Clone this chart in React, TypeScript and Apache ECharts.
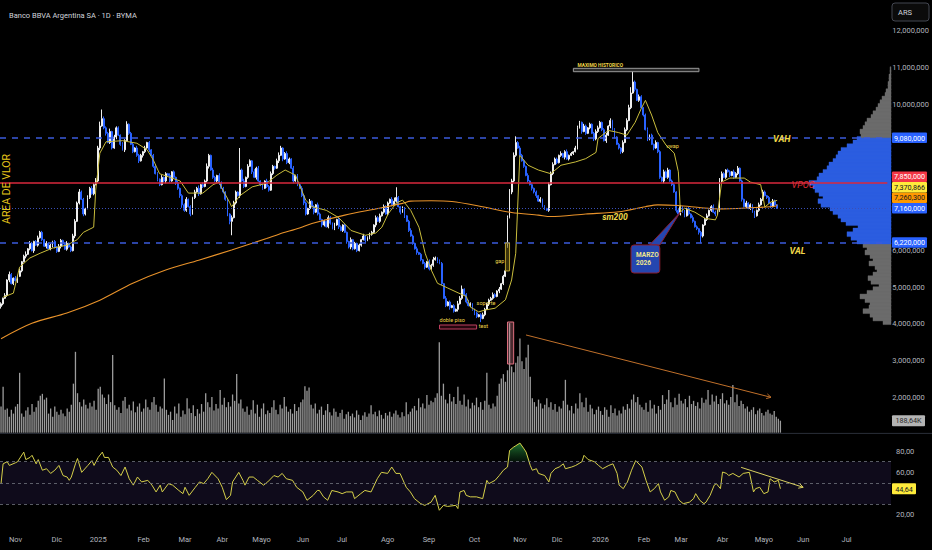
import { useEffect, useRef } from "react";
import * as echarts from "echarts";

const TITLE = "Banco BBVA Argentina SA · 1D · BYMA";
const FONT = "Roboto, 'Noto Sans', sans-serif";
const START_DATE = "2024-10-23";
const BAR_COUNT = 431;
const HOLIDAYS = [
  "2024-11-18", "2024-12-24", "2024-12-25", "2025-01-01", "2025-03-03", "2025-03-04", "2025-03-24",
  "2025-04-02", "2025-04-17", "2025-04-18", "2025-05-01", "2025-05-02", "2025-06-16", "2025-06-20",
  "2025-07-09", "2025-08-15", "2025-10-10", "2025-11-21", "2025-11-24", "2025-12-08", "2025-12-25",
  "2026-01-01", "2026-02-16", "2026-02-17", "2026-03-23", "2026-03-24", "2026-04-02", "2026-04-03",
  "2026-05-01", "2026-05-25", "2026-06-15", "2026-07-09", "2026-07-10",
];
const MONTH_NAMES = ["Ene", "Feb", "Mar", "Abr", "Mayo", "Jun", "Jul", "Ago", "Sep", "Oct", "Nov", "Dic"];

// price scale of the main pane (ARS)
const PRICE_MIN = 1000000;
const PRICE_MAX = 12837500;
const PRICE_STEP = 1000000;

// daily closes, units of 10,000 ARS
const CLOSE = [
  455, 470, 478, 520, 535, 510, 525, 518, 530, 545,
  570, 585, 590, 605, 620, 600, 625, 615, 635, 650,
  630, 612, 620, 605, 615, 625, 610, 598, 612, 628,
  618, 604, 620, 610, 600, 640, 680, 730, 760, 740,
  700, 715, 745, 770, 755, 780, 790, 880, 940, 960,
  935, 920, 895, 925, 880, 910, 935, 915, 890, 875,
  900, 945, 920, 890, 870, 880, 860, 845, 860, 870,
  880, 895, 875, 860, 830, 810, 795, 780, 800, 790,
  810, 805, 790, 815, 800, 785, 770, 750, 725, 710,
  740, 720, 700, 745, 760, 770, 755, 780, 775, 790,
  830, 860, 820, 800, 790, 805, 785, 770, 760, 740,
  700, 680, 690, 730, 760, 750, 820, 790, 775, 800,
  830, 845, 815, 800, 825, 790, 780, 770, 790, 775,
  765, 810, 830, 825, 845, 860, 880, 850, 865, 840,
  850, 825, 790, 805, 780, 770, 750, 730, 700, 715,
  735, 720, 705, 725, 700, 685, 670, 680, 665, 690,
  675, 660, 670, 685, 665, 655, 670, 650, 625, 610,
  630, 605, 620, 600, 615, 630, 640, 628, 635, 645,
  650, 670, 690, 680, 695, 705, 720, 700, 730, 740,
  725, 735, 745, 720, 705, 715, 695, 680, 655, 640,
  620, 605, 595, 590, 575, 565, 555, 570, 550, 560,
  575, 580, 570, 565, 510, 470, 450, 460, 445, 450,
  435, 440, 455, 470, 495, 480, 460, 450, 455, 440,
  430, 420, 425, 415, 425, 440, 455, 465, 470, 480,
  475, 490, 495, 510, 530, 545, 690, 760, 790, 860,
  895, 880, 860, 845, 830, 805, 790, 780, 770, 760,
  750, 735, 740, 720, 715, 710, 780, 810, 835, 850,
  840, 860, 865, 855, 870, 850, 860, 865, 870, 880,
  935, 950, 925, 940, 920, 935, 945, 920, 905, 925,
  935, 950, 930, 900, 915, 940, 955, 930, 910, 890,
  880, 870, 895, 930, 955, 990, 1030, 1060, 1040, 1010,
  1020, 990, 970, 930, 905, 915, 890, 880, 895, 870,
  800, 790, 815, 800, 820, 790, 780, 760, 710, 700,
  720, 705, 695, 715, 700, 690, 680, 665, 660, 650,
  640, 670, 685, 695, 710, 720, 705, 700, 710, 790,
  810, 800, 820, 815, 805, 815, 800, 810, 825, 790,
  740, 720, 730, 715, 725, 705, 695, 710, 725, 740,
  760, 750, 745, 730, 720, 735, 725, 716,
];
const FIRST_OPEN = 448;
const OPEN_OVERRIDE: Record<number, number> = { 246: 612 };
// wick lengths per bar, units of 20,000 ARS
const HIGH_WICK = [
  "2131421323", "1241321232", "2131212132", "1231233242", "2132324369",
  "3224132213", "2412313221", "3121232131", "2131213122", "3121324132",
  "4213213221", "2133216231", "3214231213", "2321343123", "2131213221",
  "3121321213", "2131321211", "3121213122", "2132313221", "3522132123",
  "2131212132", "4213213121", "2143512321", "1212321223", "2131223434",
  "5232213121", "2131213332", "2131231213", "3213212123", "3212313121",
  "2133348421", "3212312131", "2132312212", "2131213121", "2123123214",
  "3212213231", "2131212132", "32121321",
];
const LOW_WICK = [
  "3212312131", "2131213121", "2131232213", "3121213121", "3212121231",
  "2312213121", "3121212313", "2131213212", "3121232342", "2131213121",
  "2312123122", "3421213121", "2131312212", "2122131312", "2131212321",
  "2131213212", "2121312132", "3212121312", "2131212121", "2121313121",
  "2131213121", "2121212131", "2131212122", "3212121312", "2131212132",
  "2131212132", "3121212121", "2121312121", "2131212132", "2121313121",
  "2321212131", "2121321312", "2131212131", "2121212123", "3212121312",
  "2121212121", "3121213121", "21212121",
];
const HIGH_OVERRIDE: Record<number, number> = { 49: 985, 116: 880, 192: 773, 250: 912, 307: 1092 };
const LOW_OVERRIDE: Record<number, number> = { 112: 642, 233: 405, 340: 620 };

// daily volume, units of 10,000
const VOLUME = [
  41, 72, 36, 38, 25, 36, 30, 41, 45, 94,
  30, 25, 35, 40, 28, 45, 33, 40, 50, 58,
  61, 52, 55, 30, 38, 25, 41, 33, 28, 36,
  30, 26, 38, 33, 44, 77, 127, 62, 48, 41,
  52, 44, 38, 47, 41, 50, 36, 69, 72, 60,
  55, 45, 60, 48, 122, 43, 36, 40, 31, 50,
  56, 38, 44, 35, 49, 32, 41, 46, 33, 38,
  52, 40, 36, 48, 56, 44, 33, 41, 38, 85,
  36, 28, 33, 20, 41, 30, 46, 25, 35, 29,
  54, 38, 31, 43, 26, 37, 30, 45, 33, 62,
  48, 40, 56, 35, 45, 38, 67, 44, 55, 40,
  48, 41, 60, 50, 92, 46, 52, 38, 33, 41,
  28, 36, 51, 30, 44, 25, 38, 46, 29, 35,
  31, 40, 51, 36, 29, 44, 38, 56, 41, 33,
  37, 30, 45, 34, 40, 48, 52, 73, 66, 71,
  44, 38, 46, 30, 36, 41, 28, 35, 45, 32,
  27, 38, 33, 25, 31, 36, 22, 29, 33, 26,
  30, 24, 35, 28, 20, 27, 32, 25, 30, 43,
  29, 33, 26, 35, 28, 22, 31, 27, 33, 25,
  30, 35, 28, 24, 32, 26, 48, 29, 33, 38,
  42, 35, 54, 40, 46, 38, 59, 44, 50, 48,
  55, 62, 142, 58, 77, 52, 46, 61, 49, 56,
  45, 72, 50, 44, 60, 41, 52, 38, 47, 43,
  55, 40, 48, 36, 50, 94, 44, 38, 46, 41,
  58, 77, 85, 92, 80, 98, 172, 104, 95, 110,
  120, 148, 112, 100, 118, 138, 88, 54, 48, 41,
  52, 46, 38, 44, 54, 40, 48, 36, 45, 33,
  41, 38, 50, 83, 44, 35, 42, 30, 46, 38,
  62, 48, 40, 55, 33, 44, 38, 29, 36, 41,
  34, 28, 40, 36, 25, 43, 31, 38, 27, 35,
  30, 41, 36, 45, 38, 52, 60, 48, 56, 44,
  40, 36, 47, 33, 51, 38, 44, 30, 42, 36,
  59, 45, 52, 67, 48, 40, 55, 44, 61, 50,
  46, 53, 40, 58, 45, 50, 42, 48, 38, 55,
  47, 52, 67, 44, 60, 49, 58, 45, 53, 62,
  46, 51, 44, 56, 75, 48, 60, 42, 50, 45,
  38, 41, 33, 36, 40, 29, 35, 38, 31, 27,
  33, 36, 30, 28, 34, 25, 22, 18.864,
];

// [bar index, value in millions]
const SMA200 = [
  [0, 3.6], [15, 4.02], [32, 4.3], [48, 4.65], [64, 5.11], [80, 5.47], [96, 5.74], [112, 6.02],
  [129, 6.33], [135, 6.45], [145, 6.62], [151, 6.74], [167, 6.97], [183, 7.15], [195, 7.29],
  [199, 7.35], [209, 7.36], [219, 7.34], [232, 7.22], [248, 7.04], [261, 6.97], [267, 6.93],
  [284, 7.0], [300, 7.06], [313, 7.2], [319, 7.25], [329, 7.23], [340, 7.17], [348, 7.14],
  [364, 7.17], [376, 7.21], [377, 7.2603],
];
const VWAP = [
  [1, 4.73], [6, 4.84], [9, 5.55], [14, 5.8], [19, 5.93], [25, 6.07], [32, 6.15], [37, 6.3],
  [40, 6.5], [45, 6.64], [46, 7.65], [48, 8.66], [51, 8.97], [59, 9.0], [66, 8.93], [71, 8.75],
  [74, 8.47], [77, 8.1], [82, 8.0], [87, 7.9], [91, 7.57], [98, 7.57], [103, 7.8], [106, 7.87],
  [107, 7.73], [111, 7.32], [112, 7.2], [116, 7.5], [122, 7.74], [129, 7.84], [134, 8.06],
  [138, 8.2], [143, 8.06], [148, 7.38], [151, 7.2], [158, 7.1], [164, 6.9], [170, 6.55],
  [177, 6.42], [182, 6.48], [185, 6.64], [188, 7.0], [192, 7.3], [195, 7.38], [199, 7.1],
  [203, 6.64], [206, 5.93], [209, 5.47], [212, 5.11], [217, 4.98], [222, 4.85], [226, 4.75],
  [228, 4.46], [232, 4.33], [235, 4.38], [240, 4.43], [245, 4.66], [248, 5.2], [250, 5.93],
  [252, 8.6], [256, 8.33], [261, 8.2], [267, 8.1], [272, 8.33], [279, 8.42], [284, 8.51],
  [289, 8.68], [290, 9.06], [295, 9.28], [300, 9.22], [304, 9.15], [308, 9.5], [311, 9.88],
  [313, 10.1], [316, 9.7], [319, 9.22], [323, 8.88], [327, 8.66], [329, 8.15], [330, 7.05],
  [332, 7.16], [337, 7.05], [342, 6.88], [347, 6.84], [348, 6.97], [350, 7.87], [354, 7.98],
  [361, 7.98], [364, 7.87], [369, 7.8], [371, 7.19], [374, 7.33], [377, 7.370866],
];
const RSI = [
  [0, 49.4], [1, 68], [3, 70], [4, 66.5], [7, 69], [8, 70], [11, 79], [12, 72], [14, 74], [15, 76],
  [17, 68], [18, 72], [20, 62], [22, 63.4], [24, 59], [26, 62], [28, 66.5], [30, 57], [32, 55.6],
  [33, 52.5], [34, 55.6], [36, 68], [37, 73], [39, 60], [42, 66.5], [44, 71], [45, 66.5], [47, 74],
  [49, 79], [50, 74], [52, 74], [54, 65], [56, 62], [58, 57], [60, 65], [62, 54], [64, 48],
  [66, 55.6], [68, 51], [71, 52.5], [73, 48], [75, 41.6], [77, 48], [78, 41.6], [81, 49.4], [83, 48],
  [86, 43], [88, 40], [89, 46], [91, 38.4], [94, 46], [96, 51], [98, 49.4], [100, 54], [102, 60],
  [105, 54], [107, 46], [109, 34.4], [111, 38.4], [112, 51], [115, 60], [117, 52.5], [118, 48],
  [120, 55.6], [122, 55.6], [124, 52.5], [127, 48], [129, 51], [132, 57], [134, 55.6], [136, 59],
  [138, 54], [141, 52.5], [143, 46], [146, 41.6], [148, 33.8], [151, 38.4], [153, 43], [154, 43],
  [156, 37], [158, 33.8], [160, 43], [163, 41.6], [165, 40], [167, 41.6], [170, 41.6], [171, 35.3],
  [174, 40], [176, 43], [179, 41.6], [182, 54], [184, 60], [187, 59], [189, 65], [191, 59], [193, 59],
  [196, 46], [198, 41.6], [200, 35.3], [203, 30.6], [205, 29], [208, 32], [210, 38.4], [212, 24.4],
  [214, 29], [216, 28], [220, 29], [221, 26], [222, 41.6], [224, 43], [225, 38.4], [227, 37],
  [230, 37], [233, 35.3], [235, 52.5], [236, 49.4], [239, 52.5], [241, 57], [243, 62], [245, 65],
  [246, 80.6], [248, 83.8], [249, 85], [251, 87.5], [253, 82], [254, 79], [256, 66.5], [257, 62],
  [259, 63.4], [260, 59], [263, 57], [265, 51], [266, 59], [268, 63.4], [270, 65], [272, 68],
  [273, 63.4], [276, 65], [278, 66.5], [281, 70], [282, 76], [284, 72], [287, 70], [289, 66.5],
  [291, 63.4], [294, 66.5], [296, 68], [298, 59], [299, 48], [301, 44.7], [303, 51], [305, 62],
  [307, 71], [310, 65], [312, 52.5], [314, 41.6], [316, 44.7], [318, 49.4], [319, 41.6], [321, 33.8],
  [323, 37], [324, 43], [326, 41.6], [328, 33.8], [330, 30.6], [333, 32], [335, 35.3], [336, 40],
  [338, 33.8], [340, 30.6], [341, 32], [343, 38.4], [345, 48], [346, 49.4], [348, 44.7], [349, 60.3],
  [351, 59], [352, 57], [354, 59], [357, 55.6], [359, 59], [362, 60], [364, 41.6], [365, 44.7],
  [367, 46], [369, 40], [371, 41.6], [372, 54], [374, 51], [376, 52.5], [377, 44.64],
];

// volume profile: rows of 100,000 ARS from 4,000,000, relative width
const VP_START = 4.0;
const VP_STEP = 0.1;
const VP_WIDTH = [
  8, 18, 21, 28, 22, 21, 26, 31, 24, 18,
  12, 20, 23, 18, 14, 16, 22, 18, 21, 26,
  24, 28, 34, 40, 44, 38, 33, 45, 50, 53,
  58, 61, 70, 73, 68, 72, 76, 78, 82, 74,
  72, 68, 64, 62, 58, 55, 53, 50, 44, 38,
  34, 30, 31, 28, 26, 24, 20, 18, 15, 13,
  11, 9, 6, 5, 3, 3, 2, 2, 1, 1,
];
const VAH = 9080000;
const VAL = 6220000;
const VPOC = 7850000;
const LAST_CLOSE = 7160000;
const VWAP_LAST = 7370866;
const SMA_LAST = 7260300;

const PRICE_TAGS = [
  { value: VAH, bg: "#2962ff", fg: "#ffffff" },
  { value: VPOC, bg: "#f23645", fg: "#ffffff" },
  { value: VWAP_LAST, bg: "#ffeb3b", fg: "#131722" },
  { value: SMA_LAST, bg: "#ff9800", fg: "#131722" },
  { value: LAST_CLOSE, bg: "#2962ff", fg: "#ffffff" },
  { value: VAL, bg: "#2962ff", fg: "#ffffff" },
];

function tradingDays(): string[] {
  const out: string[] = [];
  const hol = new Set(HOLIDAYS);
  const d = new Date(START_DATE + "T00:00:00Z");
  while (out.length < BAR_COUNT) {
    const dow = d.getUTCDay();
    const s = d.toISOString().slice(0, 10);
    if (dow !== 0 && dow !== 6 && !hol.has(s)) out.push(s);
    d.setUTCDate(d.getUTCDate() + 1);
  }
  return out;
}

function digits(groups: string[]): number[] {
  return groups.join("").split("").map(Number);
}

export default function App() {
  const ref = useRef<HTMLDivElement>(null);

  useEffect(() => {
    if (!ref.current) return;
    const chart = echarts.init(ref.current, undefined, { renderer: "svg" });
    const dates = tradingDays();
    const hiW = digits(HIGH_WICK);
    const loW = digits(LOW_WICK);
    const candles = CLOSE.map((c, i) => {
      const o = OPEN_OVERRIDE[i] ?? (i === 0 ? FIRST_OPEN : CLOSE[i - 1]);
      const hi = HIGH_OVERRIDE[i] ?? Math.max(o, c) + (hiW[i] ?? 1) * 2;
      const lo = LOW_OVERRIDE[i] ?? Math.min(o, c) - (loW[i] ?? 1) * 2;
      return [o * 1e4, c * 1e4, lo * 1e4, hi * 1e4];
    });
    const vols = VOLUME.map((v) => v * 1e4);
    const vp = VP_WIDTH.map((w, k) => [
      (VP_START + k * VP_STEP) * 1e6,
      (VP_START + (k + 1) * VP_STEP) * 1e6,
      w,
    ]);
    const obPts = RSI.filter(([i]) => i >= 243 && i <= 257);
    const monthOf = (s: string) => parseInt(s.slice(5, 7), 10) - 1;
    const isMonthStart = (i: number) => i > 0 && i < 425 && monthOf(dates[i]) !== monthOf(dates[i - 1]);
    const labelColor = "#b2b5be";
    const hiddenPrice = new Set([1e6, 7e6, 8e6, 9e6]);
    const noLabelLine = { silent: true, symbol: ["none", "none"], label: { show: false } };

    const option: any = {
      animation: false,
      backgroundColor: "#000000",
      title: {
        text: TITLE,
        left: 4,
        top: 6,
        textStyle: { color: "#d1d4dc", fontSize: 7.5, fontWeight: "normal", fontFamily: FONT },
      },
      grid: [
        { left: 0, width: 891, top: 0, height: 433.96 },
        { left: 0, width: 891, top: 282.7, height: 150 },
        { left: 0, width: 891, top: 429.75, height: 106.5 },
        { left: 791, width: 100, top: 0, height: 433.96 },
      ],
      xAxis: [
        { type: "category", gridIndex: 0, data: dates, show: false },
        { type: "category", gridIndex: 1, data: dates, show: false },
        {
          type: "category",
          gridIndex: 2,
          data: dates,
          axisLine: { show: false },
          axisTick: { show: false },
          splitLine: { show: false },
          axisLabel: {
            interval: (i: number) => isMonthStart(i),
            formatter: (s: string) => {
              const m = monthOf(s);
              return m === 0 ? s.slice(0, 4) : MONTH_NAMES[m];
            },
            color: labelColor,
            fontSize: 7.5,
            fontFamily: FONT,
            margin: -1,
          },
        },
        { type: "value", gridIndex: 3, inverse: true, min: 0, max: 100, show: false },
      ],
      yAxis: [
        {
          type: "value",
          gridIndex: 0,
          position: "right",
          min: PRICE_MIN,
          max: PRICE_MAX,
          interval: PRICE_STEP,
          splitLine: { show: false },
          axisLine: { show: false },
          axisTick: { show: false },
          axisLabel: {
            formatter: (v: number) =>
              v % PRICE_STEP !== 0 || hiddenPrice.has(v) ? "" : v.toLocaleString("en-US"),
            color: labelColor,
            fontSize: 7.5,
            fontFamily: FONT,
            margin: 5,
          },
        },
        { type: "value", gridIndex: 1, min: 0, max: 2355000, show: false },
        {
          type: "value",
          gridIndex: 2,
          position: "right",
          min: 0,
          max: 100,
          interval: 20,
          splitLine: { show: false },
          axisLine: { show: false },
          axisTick: { show: false },
          axisLabel: {
            formatter: (v: number) =>
              v === 0 || v === 100 || v === 40 ? "" : v.toFixed(2).replace(".", ","),
            color: labelColor,
            fontSize: 7.5,
            fontFamily: FONT,
            margin: 5,
          },
        },
        { type: "value", gridIndex: 3, min: PRICE_MIN, max: PRICE_MAX, show: false },
      ],
      series: [
        {
          type: "bar",
          xAxisIndex: 1,
          yAxisIndex: 1,
          data: vols,
          barWidth: 1.3,
          itemStyle: { color: "rgba(200,200,200,0.78)" },
          silent: true,
        },
        {
          type: "candlestick",
          xAxisIndex: 0,
          yAxisIndex: 0,
          data: candles,
          barWidth: 1.4,
          itemStyle: {
            color: "#eeeeee",
            color0: "#2962ff",
            borderColor: "#eeeeee",
            borderColor0: "#2962ff",
            borderWidth: 1,
          },
          silent: true,
          markLine: {
            ...noLabelLine,
            lineStyle: { color: "#3b5bdb", type: [6, 6], width: 1.5 },
            data: [{ yAxis: VAH }, { yAxis: VAL }],
          },
        },
        {
          type: "line",
          xAxisIndex: 0,
          yAxisIndex: 0,
          data: SMA200.map(([i, v]) => [i, v * 1e6]),
          showSymbol: false,
          symbol: "none",
          smooth: 0.3,
          lineStyle: { color: "#e8922a", width: 1.1 },
          silent: true,
          markLine: {
            ...noLabelLine,
            lineStyle: { color: "#d8283c", type: "solid", width: 1.6, opacity: 1 },
            data: [{ yAxis: VPOC }],
          },
        },
        {
          type: "line",
          xAxisIndex: 0,
          yAxisIndex: 0,
          data: VWAP.map(([i, v]) => [i, v * 1e6]),
          showSymbol: false,
          symbol: "none",
          lineStyle: { color: "#c9bd3c", width: 1 },
          silent: true,
          markLine: {
            ...noLabelLine,
            lineStyle: { color: "#3a4fb8", type: [1, 2], width: 1, opacity: 1 },
            data: [{ yAxis: LAST_CLOSE }],
          },
        },
        {
          type: "custom",
          xAxisIndex: 3,
          yAxisIndex: 3,
          data: vp,
          encode: { x: 2, y: [0, 1] },
          silent: true,
          renderItem: (_p: any, api: any) => {
            const lo = api.value(0);
            const hi = api.value(1);
            const w = api.value(2);
            const a = api.coord([0, lo]);
            const b = api.coord([w, hi]);
            const mid = (lo + hi) / 2;
            const fill = mid >= VAL && mid <= VAH ? "#2b5de0" : "#6b6b6b";
            return {
              type: "rect",
              shape: { x: b[0], y: b[1] - 0.6, width: a[0] - b[0], height: a[1] - b[1] + 1.2 },
              style: { fill, stroke: fill, lineWidth: 0.4 },
            };
          },
        },
        {
          type: "line",
          xAxisIndex: 2,
          yAxisIndex: 2,
          data: obPts.map(([i]) => [i, 70]),
          stack: "ob",
          symbol: "none",
          lineStyle: { opacity: 0 },
          silent: true,
        },
        {
          type: "line",
          xAxisIndex: 2,
          yAxisIndex: 2,
          data: obPts.map(([i, r]) => [i, Math.max(r - 70, 0)]),
          stack: "ob",
          symbol: "none",
          lineStyle: { opacity: 0 },
          areaStyle: {
            color: new echarts.graphic.LinearGradient(0, 0, 0, 1, [
              { offset: 0, color: "rgba(60,210,90,0.8)" },
              { offset: 1, color: "rgba(20,90,40,0.3)" },
            ]),
          },
          silent: true,
        },
        {
          type: "line",
          xAxisIndex: 2,
          yAxisIndex: 2,
          data: RSI,
          symbol: "none",
          lineStyle: { color: "#d6d04a", width: 1 },
          silent: true,
          markArea: {
            silent: true,
            itemStyle: { color: "rgba(120,90,220,0.12)" },
            data: [[{ yAxis: 30 }, { yAxis: 70 }]],
          },
          markLine: {
            ...noLabelLine,
            lineStyle: { color: "#70737e", type: [3, 3], width: 0.8 },
            data: [{ yAxis: 70 }, { yAxis: 50 }, { yAxis: 30 }],
          },
        },
      ],
    };
    chart.setOption(option);

    const P = (i: number, m: number) =>
      chart.convertToPixel({ gridIndex: 0 } as any, [i, m * 1e6]) as unknown as number[];
    const R = (i: number, r: number) =>
      chart.convertToPixel({ gridIndex: 2 } as any, [i, r]) as unknown as number[];
    const Vy = (v: number) => (chart.convertToPixel({ gridIndex: 1 } as any, [0, v]) as unknown as number[])[1];
    const fmtNum = (v: number) => v.toLocaleString("en-US");

    const els: any[] = [];
    const text = (x: number, y: number, t: string, fill: string, size: number, extra: any = {}) =>
      els.push({
        type: "text",
        x,
        y,
        z: 120,
        silent: true,
        rotation: extra.rotation ?? 0,
        style: {
          text: t,
          fill,
          fontSize: size,
          fontFamily: FONT,
          fontWeight: extra.weight ?? "normal",
          fontStyle: extra.style ?? "normal",
          align: extra.align ?? "left",
          verticalAlign: extra.valign ?? "middle",
        },
      });
    const rectPts = (a: number[], b: number[], style: any, r = 0) =>
      els.push({
        type: "rect",
        z: 90,
        silent: true,
        shape: {
          x: Math.min(a[0], b[0]),
          y: Math.min(a[1], b[1]),
          width: Math.abs(b[0] - a[0]),
          height: Math.abs(b[1] - a[1]),
          r,
        },
        style,
      });
    const arrow = (a: number[], b: number[], color: string, w: number) => {
      const ang = Math.atan2(b[1] - a[1], b[0] - a[0]);
      const L = 5;
      const p1 = [b[0] - L * Math.cos(ang - 0.5), b[1] - L * Math.sin(ang - 0.5)];
      const p2 = [b[0] - L * Math.cos(ang + 0.5), b[1] - L * Math.sin(ang + 0.5)];
      els.push({
        type: "line",
        z: 95,
        silent: true,
        shape: { x1: a[0], y1: a[1], x2: b[0], y2: b[1] },
        style: { stroke: color, lineWidth: w },
      });
      els.push({
        type: "polyline",
        z: 95,
        silent: true,
        shape: { points: [p1, b, p2] },
        style: { stroke: color, lineWidth: w, fill: "none" },
      });
    };

    // pane separator
    els.push({
      type: "line",
      z: 80,
      silent: true,
      shape: { x1: 0, y1: 433.4, x2: 932, y2: 433.4 },
      style: { stroke: "#2a2e39", lineWidth: 1 },
    });
    // ARS button
    els.push({
      type: "rect",
      z: 100,
      silent: true,
      shape: { x: 892, y: 3, width: 37, height: 18, r: 3 },
      style: { fill: "#0b0b0b", stroke: "#434651", lineWidth: 1 },
    });
    text(898, 12.5, "ARS", "#d1d4dc", 7.5);

    // AREA DE VLOR
    text(6, 189, "AREA DE VLOR", "#e8c81a", 10.5, { rotation: Math.PI / 2, align: "center" });

    // drawings
    const yel = "#f0d84a";
    text(P(375.4, 9)[0], P(0, 9.046)[1], "VAH", yel, 9, { weight: "bold", style: "italic" });
    text(P(382.7, 6)[0], P(0, 5.99)[1], "VAL", yel, 9, { weight: "bold", style: "italic" });
    text(P(384.1, 7)[0], P(0, 7.79)[1], "VPOC", "#e0303a", 9, { style: "italic" });
    text(P(292.2, 7)[0], P(0, 6.92)[1], "sm200", yel, 8.5, { weight: "bold", style: "italic" });
    text(P(322.7, 8)[0], P(0, 8.855)[1], "vwap", yel, 5.5);

    rectPts(P(277.7, 10.974), P(338.6, 10.882), { fill: "#2a2a2a", stroke: "#9a9a9a", lineWidth: 1 });
    text(P(280.1, 11)[0], P(0, 11.04)[1], "MAXIMO HISTORICO", yel, 4.8, { weight: "bold" });

    rectPts(P(244.8, 6.21), P(247.2, 5.447), { fill: "rgba(110,95,20,0.55)", stroke: "#b8a030", lineWidth: 1 });
    text(P(240, 5)[0], P(0, 5.72)[1], "gap", yel, 5.5);
    text(P(231.2, 4)[0], P(0, 4.56)[1], "soporte", yel, 5.5);
    text(P(212.8, 4)[0], P(0, 4.11)[1], "doble piso", yel, 5.5);
    rectPts(P(212.8, 3.972), P(231.2, 3.863), { fill: "rgba(110,20,40,0.35)", stroke: "#c04060", lineWidth: 1 });
    text(P(232.2, 4)[0], P(0, 3.945)[1], "test", yel, 5.5);

    // MARZO 2026 callout
    const tailA = P(315.4, 6.155);
    const tailB = P(319.8, 6.155);
    const tip = P(329.5, 7.055);
    els.push({
      type: "polygon",
      z: 96,
      silent: true,
      shape: { points: [tailA, tip, tailB] },
      style: { fill: "#2446b0", stroke: "#8a1c2c", lineWidth: 1 },
    });
    const boxA = P(305.7, 6.155);
    const boxB = P(320.3, 5.39);
    els.push({
      type: "rect",
      z: 97,
      silent: true,
      shape: { x: boxA[0], y: boxA[1], width: boxB[0] - boxA[0], height: boxB[1] - boxA[1], r: 3 },
      style: { fill: "#2446b0", stroke: "#8a1c2c", lineWidth: 1 },
    });
    text(boxA[0] + 5, boxA[1] + 10, "MARZO", "#f0e68c", 6.5, { weight: "bold" });
    text(boxA[0] + 5, boxA[1] + 18, "2026", "#f0e68c", 6.5, { weight: "bold" });

    // highlighted volume bar
    rectPts(P(245.7, 4.054), P(248.7, 2.908), { fill: "rgba(210,120,135,0.35)", stroke: "#e07080", lineWidth: 1 });

    // trend lines
    arrow(P(255, 3.7), P(374.2, 2.0), "#c0702a", 1);
    arrow(R(358.2, 64.7), R(388.3, 46.0), "#d8d060", 1);

    // price tags (stacked upward)
    const H = 10.5;
    const sorted = [...PRICE_TAGS].sort((a, b) => a.value - b.value);
    let prev = Infinity;
    for (const t of sorted) {
      let y = P(0, t.value / 1e6)[1];
      y = Math.min(y, prev - H);
      prev = y;
      els.push({
        type: "rect",
        z: 110,
        silent: true,
        shape: { x: 892, y: y - H / 2, width: 35, height: H, r: 1 },
        style: { fill: t.bg },
      });
      text(909.5, y + 0.3, fmtNum(t.value), t.fg, 7.2, { align: "center" });
    }
    // volume tag
    const lastVol = VOLUME[VOLUME.length - 1] * 1e4;
    const vy = Vy(lastVol);
    els.push({
      type: "rect",
      z: 110,
      silent: true,
      shape: { x: 892, y: vy - 5.5, width: 33, height: 11, r: 1 },
      style: { fill: "#b4b4b4" },
    });
    text(908.5, vy + 0.3, (lastVol / 1000).toFixed(2).replace(".", ",") + "K", "#2a2a2a", 7.2, { align: "center" });
    // RSI tag
    const lastR = RSI[RSI.length - 1];
    const ry = R(lastR[0], lastR[1])[1];
    els.push({
      type: "rect",
      z: 110,
      silent: true,
      shape: { x: 892, y: ry - 5.5, width: 24, height: 11, r: 1 },
      style: { fill: "#ffeb3b" },
    });
    text(904, ry + 0.3, lastR[1].toFixed(2).replace(".", ","), "#131722", 7.2, { align: "center" });

    chart.setOption({ graphic: { elements: els } });

    return () => chart.dispose();
  }, []);

  return (
    <div
      ref={ref}
      style={{ position: "fixed", left: 0, top: 0, width: 932, height: 550, background: "#000" }}
    />
  );
}
